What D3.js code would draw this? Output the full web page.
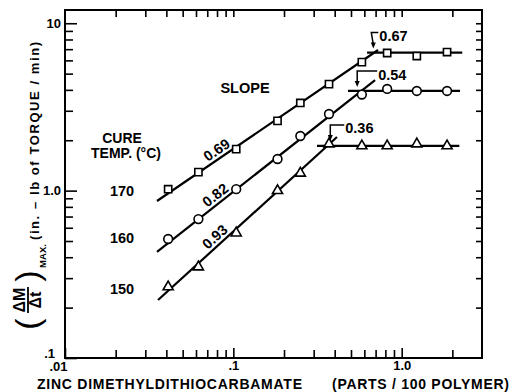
<!DOCTYPE html>
<html><head><meta charset="utf-8">
<script src="https://cdn.jsdelivr.net/npm/d3@7"></script>
<style>
body{margin:0;background:#fff;}
svg{display:block;}
text{font-family:"Liberation Sans",Arial,sans-serif;font-weight:bold;fill:#000;}
</style>
</head><body><svg id="c" width="512" height="392"></svg>
<script>
// ---- data ----
const concentration = [0.041, 0.062, 0.104, 0.183, 0.25, 0.37, 0.58, 0.82, 1.23, 1.86];
const temp170 = [1.02, 1.29, 1.77, 2.61, 3.34, 4.33, 5.86, 6.64, 6.37, 6.73];
const temp160 = [0.514, 0.676, 1.02, 1.545, 2.12, 2.87, 3.75, 4.05, 3.94, 3.94];
const temp150 = [0.266, 0.35, 0.558, 1.0, 1.27, 1.90, 1.85, 1.85, 1.90, 1.85];
const cureTemps = ["170", "160", "150"];
const markerShapes = ["square", "circle", "triangle"];
const riseSlopes = ["0.69", "0.82", "0.93"];
const plateauSlopes = ["0.67", "0.54", "0.36"];
const riseStartX = [0.0352, 0.0352, 0.0357];
const riseStartY = [0.867, 0.43, 0.222];
const riseEndX = [0.724, 0.695, 0.413];
const riseEndY = [6.92, 4.58, 2.09];
const plateauY = [6.68, 3.94, 1.85];
const plateauStartX = [0.623, 0.48, 0.314];
const plateauEndX = [2.29, 2.22, 2.2];
const xMajorTicks = [0.01, 0.1, 1];
const xMajorLabels = [".01", ".1", "1.0"];
const yMajorTicks = [0.1, 1, 10];
const yMajorLabels = [".1", "1.0", "10"];
const xMinorTicks = [0.02,0.03,0.04,0.05,0.06,0.07,0.08,0.09,0.2,0.3,0.4,0.5,0.6,0.7,0.8,0.9,2];
const yMinorTicks = [0.2,0.3,0.4,0.5,0.6,0.7,0.8,0.9,2,3,4,5,6,7,8,9];

const series = [temp170, temp160, temp150];

// ---- layout ----
const svg = d3.select("#c");
const L = 65, R = 482, T = 10, B = 358;
const x = d3.scaleLog().domain([0.01, 3]).range([L, R]);
const y = d3.scaleLog().domain([0.1, 12]).range([B, T]);

function styleAxis(g){ g.select(".domain").remove(); g.selectAll("line").attr("stroke","#000").attr("stroke-width",1.6); }
svg.append("g").attr("transform",`translate(${L},0)`)
  .call(d3.axisLeft(y).tickValues(yMinorTicks).tickSize(-8).tickFormat(""))
  .call(styleAxis);
svg.append("g").attr("transform",`translate(${L},0)`)
  .call(d3.axisLeft(y).tickValues(yMajorTicks).tickSize(-12).tickPadding(4)
     .tickFormat((d,i)=>yMajorLabels[i]))
  .call(styleAxis)
  .call(g=>g.selectAll("text").attr("font-size",13)
     .attr("transform",d=>d===0.1?"translate(-6,-5)":null));
svg.append("g").attr("transform",`translate(0,${B})`)
  .call(d3.axisBottom(x).tickValues(xMinorTicks).tickSize(-8).tickFormat(""))
  .call(styleAxis);
svg.append("g").attr("transform",`translate(0,${B})`)
  .call(d3.axisBottom(x).tickValues(xMajorTicks).tickSize(-10).tickPadding(3)
     .tickFormat((d,i)=>xMajorLabels[i]))
  .call(styleAxis)
  .call(g=>g.selectAll("text").attr("font-size",13)
     .attr("transform",d=>d===0.01?"translate(-7,1)":null));
svg.append("g").attr("transform",`translate(0,${T})`)
  .call(d3.axisTop(x).tickValues(xMinorTicks.concat([0.1,1])).tickSize(-7).tickFormat(""))
  .call(styleAxis);
svg.append("g").attr("transform",`translate(${R},0)`)
  .call(d3.axisRight(y).tickValues(yMinorTicks.concat([1,10])).tickSize(-6).tickFormat(""))
  .call(styleAxis);
svg.append("rect").attr("x",L).attr("y",T).attr("width",R-L).attr("height",B-T)
  .attr("fill","none").attr("stroke","#000").attr("stroke-width",2);

// fitted lines
const line = d3.line().x(d=>x(d[0])).y(d=>y(d[1]));
series.forEach((s,i)=>{
  svg.append("path").attr("d", line([[riseStartX[i],riseStartY[i]],[riseEndX[i],riseEndY[i]]]))
    .attr("stroke","#000").attr("stroke-width",2.2).attr("fill","none");
  svg.append("path").attr("d", line([[plateauStartX[i],plateauY[i]],[plateauEndX[i],plateauY[i]]]))
    .attr("stroke","#000").attr("stroke-width",2.2).attr("fill","none");
});

// markers
const symType = {square:d3.symbolSquare, circle:d3.symbolCircle, triangle:d3.symbolTriangle};
const symSize = {square:52, circle:60, triangle:44};
series.forEach((s,i)=>{
  const sh = markerShapes[i];
  svg.append("g").selectAll("path").data(s).join("path")
    .attr("transform",(d,j)=>`translate(${x(concentration[j])},${y(d)})`)
    .attr("d", d3.symbol().type(symType[sh]).size(symSize[sh]))
    .attr("fill","#fff").attr("stroke","#000").attr("stroke-width",1.6);
});

// rising slope labels along lines
const labelAtX = [0.085, 0.084, 0.084];
series.forEach((s,i)=>{
  const lx0 = Math.log10(riseStartX[i]), ly0 = Math.log10(riseStartY[i]);
  const lx1 = Math.log10(riseEndX[i]), ly1 = Math.log10(riseEndY[i]);
  const m = (ly1-ly0)/(lx1-lx0);
  const xv = labelAtX[i];
  const yv = Math.pow(10, ly0 + m*(Math.log10(xv)-lx0));
  const px = x(xv), py = y(yv);
  const ang = Math.atan2(y(riseEndY[i]) - y(riseStartY[i]), x(riseEndX[i]) - x(riseStartX[i]));
  const off = 3.5;
  const nx = px + off*Math.sin(ang), ny = py - off*Math.cos(ang);
  svg.append("text").attr("transform",`translate(${nx},${ny}) rotate(${ang*180/Math.PI})`)
    .attr("text-anchor","middle").attr("font-size",14.5).text(riseSlopes[i]);
});

// break-point annotations
const annoCorner = [[-3,-20],[-4,-20],[3,-21]];
const annoTip = [[-1,-5],[-4,-5],[3,-6]];
const annoTextX = [5,17,18];
const annoTextY = [-17,-16,-18];
series.forEach((s,i)=>{
  const lx0 = Math.log10(riseStartX[i]), ly0 = Math.log10(riseStartY[i]);
  const lx1 = Math.log10(riseEndX[i]), ly1 = Math.log10(riseEndY[i]);
  const m = (ly1-ly0)/(lx1-lx0);
  const lb = lx0 + (Math.log10(plateauY[i]) - ly0)/m;
  const bx = x(Math.pow(10, lb)), by = y(plateauY[i]);
  const c = annoCorner[i], t = annoTip[i];
  svg.append("path")
    .attr("d",`M${bx+annoTextX[i]-1},${by+c[1]} L${bx+c[0]},${by+c[1]} L${bx+t[0]},${by+t[1]-3}`)
    .attr("stroke","#000").attr("stroke-width",1.5).attr("fill","none");
  svg.append("path")
    .attr("d",`M${bx+t[0]-2.5},${by+t[1]-5} L${bx+t[0]+2.5},${by+t[1]-5} L${bx+t[0]},${by+t[1]+1} Z`)
    .attr("fill","#000");
  svg.append("text").attr("x",bx+annoTextX[i]).attr("y",by+annoTextY[i]).attr("dy","0.35em")
    .attr("font-size",14.5).text(plateauSlopes[i]);
});

// text annotations
svg.append("text").attr("x",245).attr("y",93).attr("text-anchor","middle").attr("font-size",14.5).text("SLOPE");
svg.append("text").attr("x",122).attr("y",143).attr("text-anchor","middle").attr("font-size",14).text("CURE");
svg.append("text").attr("x",126).attr("y",158).attr("text-anchor","middle").attr("font-size",14).text("TEMP. (°C)");
const tempLabelY = [1.0, 0.52, 0.26];
cureTemps.forEach((t,i)=>{
  svg.append("text").attr("x",122).attr("y",y(tempLabelY[i])).attr("dy","0.35em")
    .attr("text-anchor","middle").attr("font-size",14.5).text(t);
});

// x title
svg.append("text").attr("x",37).attr("y",389).attr("font-size",14)
  .attr("textLength",265).attr("lengthAdjust","spacing").text("ZINC  DIMETHYLDITHIOCARBAMATE");
svg.append("text").attr("x",332).attr("y",389).attr("font-size",14)
  .attr("textLength",177).attr("lengthAdjust","spacing").text("(PARTS / 100 POLYMER)");

// y title (rotated)
svg.append("text").attr("transform","translate(39,240) rotate(-90)")
  .attr("font-size",13).attr("textLength",198).attr("lengthAdjust","spacing")
  .text("(in. – lb of TORQUE / min)");
svg.append("text").attr("transform","translate(46,256) rotate(-90)").attr("text-anchor","middle")
  .attr("font-size",9.5).text("MAX.");
const fr = svg.append("g").attr("transform","translate(28,300) rotate(-90)");
fr.append("text").attr("x",0).attr("y",-3).attr("text-anchor","middle").attr("font-size",16).text("ΔM");
fr.append("line").attr("x1",-13).attr("x2",13).attr("y1",0).attr("y2",0).attr("stroke","#000").attr("stroke-width",1.8);
fr.append("text").attr("x",0).attr("y",13).attr("text-anchor","middle").attr("font-size",16).text("Δt");
fr.append("text").attr("x",-24).attr("y",11).attr("text-anchor","middle").attr("font-size",34).style("font-weight","normal").text("(");
fr.append("text").attr("x",24).attr("y",11).attr("text-anchor","middle").attr("font-size",34).style("font-weight","normal").text(")");
</script>
</body></html>
